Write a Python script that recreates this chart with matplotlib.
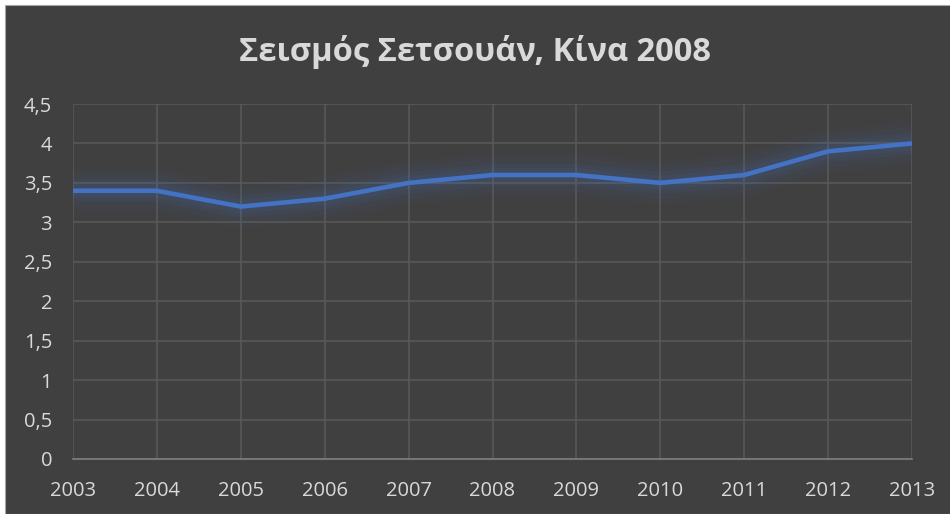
import matplotlib
matplotlib.use("Agg")
import matplotlib.pyplot as plt
from matplotlib.patches import Rectangle
from matplotlib.ticker import FuncFormatter

# Δεδομένα
years = [2003, 2004, 2005, 2006, 2007, 2008, 2009, 2010, 2011, 2012, 2013]
values = [3.4, 3.4, 3.2, 3.3, 3.5, 3.6, 3.6, 3.5, 3.6, 3.9, 4.0]
title = "Σεισμός Σετσουάν, Κίνα 2008"

BG = "#404040"
GRID = "#595959"
TEXT = "#d9d9d9"
LINE = "#4472c4"

plt.rcParams["font.family"] = ["Open Sans", "DejaVu Sans"]

fig = plt.figure(figsize=(9.5, 5.14), dpi=100)
fig.patch.set_facecolor("white")
# σκούρο φόντο με λεπτό περίγραμμα (λευκό περιθώριο πάνω/αριστερά)
fig.add_artist(Rectangle((5 / 950, 0), 1, 1 - 5 / 514, transform=fig.transFigure,
                         facecolor=BG, edgecolor="#a6a6a6", linewidth=0.8, zorder=0))

ax = fig.add_axes([73 / 950, 1 - 459 / 514, (912 - 73) / 950, (459 - 104) / 514])
ax.set_facecolor(BG)
ax.patch.set_alpha(0)

# glow
for lw, a in [(32, 0.035), (24, 0.05), (16, 0.07), (10, 0.1)]:
    ax.plot(years, values, color=LINE, linewidth=lw, alpha=a,
            solid_capstyle="butt", solid_joinstyle="round", zorder=2)
ax.plot(years, values, color=LINE, linewidth=3.3, solid_capstyle="butt",
        solid_joinstyle="round", zorder=3)

ax.set_xlim(years[0], years[-1])
ax.set_ylim(0, 4.5)
ax.set_xticks(years)
ax.set_yticks([i * 0.5 for i in range(10)])
ax.yaxis.set_major_formatter(FuncFormatter(lambda v, _: f"{v:g}".replace(".", ",")))

ax.grid(True, color=GRID, linewidth=1.1, zorder=1)
for s in ["top", "right", "left"]:
    ax.spines[s].set_visible(False)
ax.spines["bottom"].set_color("#7f7f7f")
ax.spines["bottom"].set_linewidth(1.2)
ax.tick_params(length=0, colors=TEXT, labelsize=14.5)
ax.tick_params(axis="x", pad=16)
ax.tick_params(axis="y", pad=15)

fig.text(0.5, 1 - 52 / 514, title, ha="center", va="center",
         fontsize=23.5, fontweight="bold", color=TEXT)

fig.savefig("out.png", dpi=100, facecolor=fig.get_facecolor())
